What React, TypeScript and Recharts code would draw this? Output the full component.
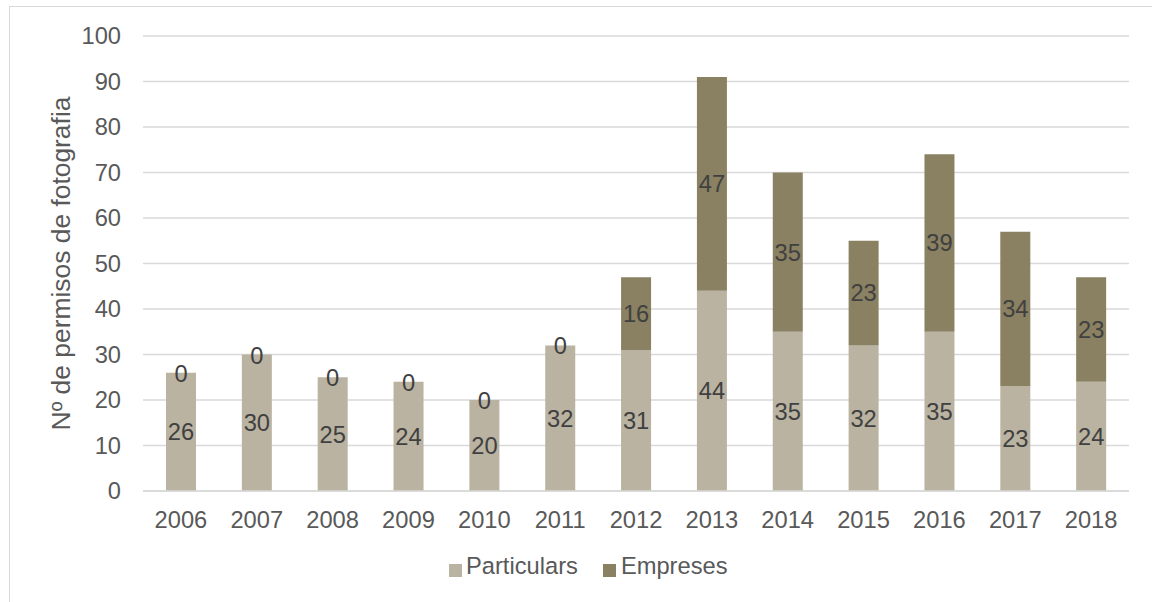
import React from 'react';
import { BarChart, Bar, XAxis, YAxis, CartesianGrid, LabelList, Legend } from 'recharts';

const years = ['2006', '2007', '2008', '2009', '2010', '2011', '2012', '2013', '2014', '2015', '2016', '2017', '2018'];
const particulars = [26, 30, 25, 24, 20, 32, 31, 44, 35, 32, 35, 23, 24];
const empreses = [0, 0, 0, 0, 0, 0, 16, 47, 35, 23, 39, 34, 23];
const yTicks = [0, 10, 20, 30, 40, 50, 60, 70, 80, 90, 100];

const data = years.map((y, i) => ({ year: y, Particulars: particulars[i], Empreses: empreses[i] }));

const FONT = '"Liberation Sans", Arial, sans-serif';
const FS = 23.7;
const C_PART = '#BAB3A1';
const C_EMP = '#8A8062';

const YLabel = (props: any) => {
  const vb = props.viewBox || {};
  const cx = 61;
  const cy = (vb.y ?? 36) + (vb.height ?? 455) / 2;
  return (
    <text
      x={cx}
      y={cy}
      transform={`rotate(-90, ${cx}, ${cy})`}
      textAnchor="middle"
      dominantBaseline="central"
      fill="#595959"
      fontSize={26.4}
      fontFamily={FONT}
    >
      Nº de permisos de fotografia
    </text>
  );
};

// Shows the Empreses value at the top of the Particulars bar when Empreses is zero-height
const ZeroLabel = (props: any) => {
  const { x, y, width, value } = props;
  if (value !== 0) return null;
  return (
    <text
      x={Number(x) + Number(width) / 2}
      y={Number(y) + 1}
      textAnchor="middle"
      dominantBaseline="central"
      fill="#404040"
      fontSize={FS}
      fontFamily={FONT}
    >
      {value}
    </text>
  );
};

const LegendContent = () => (
  <div style={{ display: 'flex', alignItems: 'center', fontFamily: FONT, fontSize: FS, color: '#595959', whiteSpace: 'nowrap' }}>
    <span style={{ display: 'inline-block', width: 13, height: 13, background: C_PART, marginRight: 4, marginTop: 8 }} />
    <span style={{ marginRight: 25 }}>Particulars</span>
    <span style={{ display: 'inline-block', width: 13, height: 13, background: C_EMP, marginRight: 5, marginTop: 8 }} />
    <span>Empreses</span>
  </div>
);

export default function App() {
  return (
    <div style={{ position: 'absolute', left: 0, top: 0, width: 1152, height: 602, overflow: 'hidden', background: '#fff' }}>
      <div style={{ position: 'absolute', left: 9, top: 6, width: 1300, height: 800, border: '1.5px solid #D9D9D9', boxSizing: 'border-box' }} />
      <div style={{ position: 'absolute', left: 0, top: 0 }}>
        <BarChart
          width={1152}
          height={602}
          data={data}
          margin={{ top: 36, right: 23, bottom: 81, left: 0 }}
          barSize={30}
        >
          <CartesianGrid vertical={false} stroke="#D9D9D9" strokeWidth={1.5} />
          <XAxis
            dataKey="year"
            axisLine={{ stroke: '#D9D9D9', strokeWidth: 1.5 }}
            tickLine={false}
            tickSize={6}
            tickMargin={14}
            height={30}
            interval={0}
            tick={{ fill: '#595959', fontSize: FS, fontFamily: FONT }}
          />
          <YAxis
            width={143}
            domain={[0, 100]}
            ticks={yTicks}
            interval={0}
            axisLine={false}
            tickLine={false}
            tickSize={6}
            tickMargin={16}
            tick={{ fill: '#595959', fontSize: FS, fontFamily: FONT }}
            label={<YLabel />}
          />
          <Legend
            layout="horizontal"
            verticalAlign="middle"
            align="center"
            content={<LegendContent />}
            wrapperStyle={{ left: 449, top: 553, width: 340, height: 32 }}
          />
          <Bar dataKey="Particulars" stackId="a" fill={C_PART} isAnimationActive={false}>
            <LabelList dataKey="Particulars" position="center" fill="#404040" fontSize={FS} fontFamily={FONT} />
            <LabelList dataKey="Empreses" content={<ZeroLabel />} />
          </Bar>
          <Bar dataKey="Empreses" stackId="a" fill={C_EMP} isAnimationActive={false}>
            <LabelList dataKey="Empreses" position="center" fill="#404040" fontSize={FS} fontFamily={FONT} />
          </Bar>
        </BarChart>
      </div>
    </div>
  );
}
